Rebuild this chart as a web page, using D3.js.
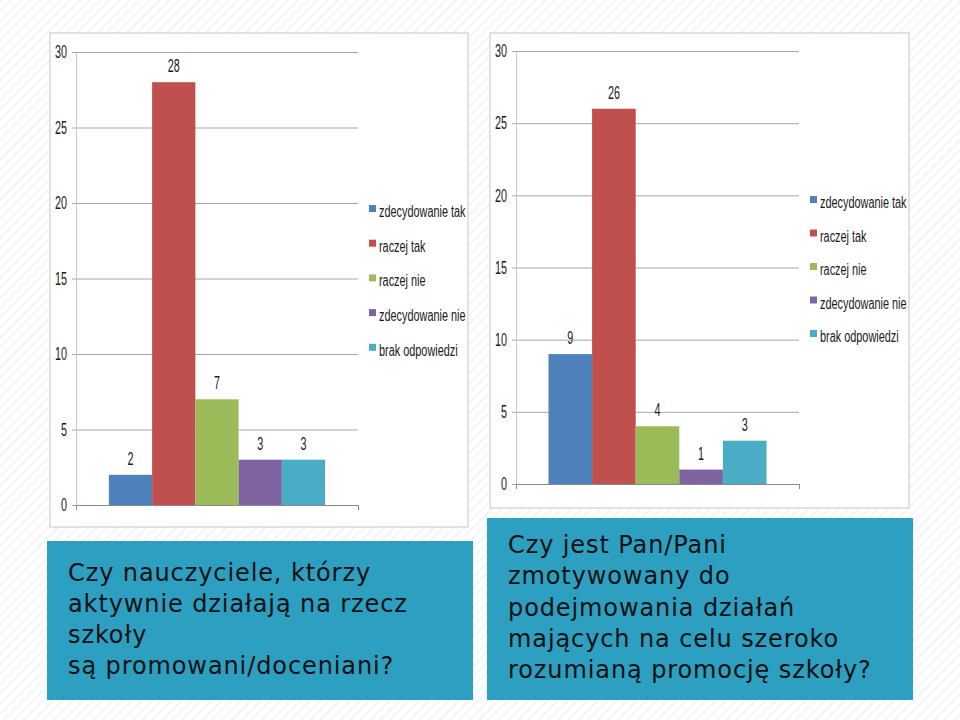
<!DOCTYPE html>
<html><head><meta charset="utf-8">
<script src="https://cdn.jsdelivr.net/npm/d3@7"></script>
<style>body{margin:0;background:#fff}svg{display:block}</style>
</head><body>
<script>
// ---- data ----
const seriesNames = ["zdecydowanie tak","raczej tak","raczej nie","zdecydowanie nie","brak odpowiedzi"];
const valuesLeft  = [2, 28, 7, 3, 3];
const valuesRight = [9, 26, 4, 1, 3];
const yTicks = [0, 5, 10, 15, 20, 25, 30];
const questionLeft  = ["Czy nauczyciele, którzy","aktywnie działają na rzecz","szkoły","są promowani/doceniani?"];
const questionRight = ["Czy jest Pan/Pani","zmotywowany do","podejmowania działań","mających na celu szeroko","rozumianą promocję szkoły?"];
const colors = ["#4F81BD","#C0504D","#9BBB59","#8064A2","#4BACC6"];

const W = 960, H = 720;
const svg = d3.select("body").append("svg").attr("width", W).attr("height", H);

// background stripes
const defs = svg.append("defs");
const pat = defs.append("pattern").attr("id","stripes").attr("width",7).attr("height",7)
  .attr("patternUnits","userSpaceOnUse").attr("patternTransform","rotate(45)");
pat.append("rect").attr("width",7).attr("height",7).attr("fill","#ffffff");
pat.append("line").attr("x1",0).attr("y1",0).attr("x2",0).attr("y2",7)
  .attr("stroke","#f1f1f1").attr("stroke-width",3);
svg.append("rect").attr("width",W).attr("height",H).attr("fill","url(#stripes)");

function squeeze(sel, f){
  sel.each(function(){
    const n = this.getComputedTextLength();
    d3.select(this).attr("textLength", n*f).attr("lengthAdjust","spacingAndGlyphs");
  });
}

const NUMFONT = "'Liberation Sans', Arial, sans-serif";

function drawPanel(values, L){
  const g = svg.append("g");
  g.append("rect").attr("x",L.box.x).attr("y",L.box.y).attr("width",L.box.w).attr("height",L.box.h)
    .attr("fill","#fff").attr("stroke","#cfcfcf").attr("stroke-width",1.2);

  const y = d3.scaleLinear().domain([0, 30]).range([L.yBottom, L.yTop]);
  const x = d3.scaleBand().domain(seriesNames).range([L.x0, L.x1]).paddingInner(0).paddingOuter(L.pad);

  // gridlines
  const grid = g.append("g").attr("transform",`translate(${L.x0-4},0)`)
    .call(d3.axisLeft(y).tickValues(yTicks).tickSize(-(L.x1-L.x0+4)).tickFormat(""));
  grid.select(".domain").remove();
  grid.selectAll(".tick line").attr("stroke","#a6a6a6");

  // y axis line + labels
  const ya = g.append("g").attr("transform",`translate(${L.x0},0)`)
    .call(d3.axisLeft(y).tickValues(yTicks).tickSize(0).tickPadding(9));
  ya.select(".domain").attr("stroke","#c8c8c8");
  ya.selectAll("text").attr("font-family",NUMFONT).attr("font-size",18).attr("fill","#1a1a1a");
  squeeze(ya.selectAll("text"), 0.6);

  // bars
  g.selectAll("rect.bar").data(values).join("rect").attr("class","bar")
    .attr("x",(d,i)=>x(seriesNames[i])).attr("width",x.bandwidth())
    .attr("y",d=>y(d)).attr("height",d=>y(0)-y(d))
    .attr("fill",(d,i)=>colors[i]);

  // x axis
  const xl = d3.scaleLinear().domain([0,1]).range([L.x0, L.x1]);
  const xa = g.append("g").attr("transform",`translate(0,${L.yBottom})`)
    .call(d3.axisBottom(xl).tickValues([0,1]).tickSize(5).tickSizeOuter(0).tickFormat(""));
  xa.select(".domain").attr("stroke","#8a8a8a");
  xa.selectAll(".tick line").attr("stroke","#8a8a8a");

  // data labels
  const lbl = g.selectAll("text.val").data(values).join("text").attr("class","val")
    .attr("x",(d,i)=>x(seriesNames[i]) + x.bandwidth()/2)
    .attr("y",d=>y(d)-10)
    .attr("text-anchor","middle").attr("font-family",NUMFONT).attr("font-size",18).attr("fill","#1a1a1a")
    .text(d=>d);
  squeeze(lbl, 0.6);

  // legend
  const lg = g.append("g");
  seriesNames.forEach((s,i)=>{
    const yy = L.leg.y + i*L.leg.dy;
    lg.append("rect").attr("x",L.leg.x).attr("y",yy-7).attr("width",7).attr("height",7).attr("fill",colors[i]);
    const t = lg.append("text").attr("x",L.leg.x+10).attr("y",yy+5)
      .attr("font-family",NUMFONT).attr("font-size",16).attr("fill","#1a1a1a").text(s);
    squeeze(t, 0.68);
  });
}

function drawQuestion(lines, B){
  const g = svg.append("g");
  g.append("rect").attr("x",B.x).attr("y",B.y).attr("width",B.w).attr("height",B.h).attr("fill","#2D9FC0");
  g.selectAll("text").data(lines).join("text")
    .attr("x",B.tx).attr("y",(d,i)=>B.ty + i*B.lh)
    .attr("font-family","'DejaVu Sans', Verdana, sans-serif").attr("font-size",24)
    .attr("letter-spacing","0.9px")
    .attr("fill","#111").text(d=>d);
}

drawPanel(valuesLeft, {box:{x:50,y:33,w:418,h:494}, x0:76, x1:358, yTop:52, yBottom:505, pad:0.76,
  leg:{x:369, y:212, dy:34.7}});
drawPanel(valuesRight, {box:{x:490,y:33,w:419,h:475}, x0:516, x1:799, yTop:51, yBottom:484, pad:0.745,
  leg:{x:810, y:203, dy:33.5}});

drawQuestion(questionLeft, {x:47,y:541,w:426,h:159, tx:68, ty:581, lh:31});
drawQuestion(questionRight, {x:487,y:518,w:426,h:182, tx:508, ty:553, lh:31.3});
</script>
</body></html>
